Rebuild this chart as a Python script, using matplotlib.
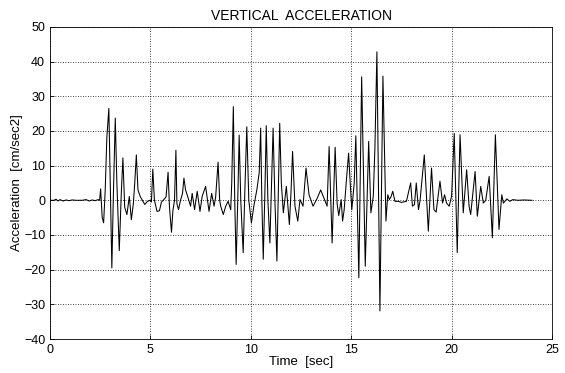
import matplotlib.pyplot as plt

# time [sec] and vertical acceleration [cm/sec2], read from the record
time = [0.0, 0.2, 0.3, 0.4, 0.5, 0.65, 0.8, 0.95, 1.1, 1.3, 1.6, 1.8, 1.95, 2.1, 2.25, 2.4, 2.47,
        2.52, 2.6, 2.67, 2.75, 2.83, 2.93, 3.0, 3.08, 3.15, 3.25, 3.33, 3.45, 3.55, 3.63, 3.72,
        3.83, 3.9, 3.95, 4.05, 4.15, 4.22, 4.3, 4.38, 4.5, 4.72, 4.85, 4.97, 5.05, 5.12, 5.2,
        5.33, 5.45, 5.55, 5.67, 5.78, 5.88, 5.95, 6.05, 6.12, 6.2, 6.27, 6.32, 6.4, 6.5, 6.6,
        6.67, 6.75, 6.83, 7.0, 7.08, 7.2, 7.33, 7.47, 7.58, 7.75, 7.92, 8.05, 8.17, 8.25, 8.37,
        8.45, 8.5, 8.63, 8.75, 8.87, 9.0, 9.05, 9.13, 9.2, 9.27, 9.35, 9.42, 9.5, 9.62, 9.7,
        9.8, 9.9, 10.03, 10.15, 10.3, 10.42, 10.49, 10.55, 10.62, 10.7, 10.77, 10.85, 10.95,
        11.03, 11.11, 11.2, 11.3, 11.37, 11.44, 11.52, 11.62, 11.77, 11.92, 12.0, 12.08, 12.2,
        12.34, 12.45, 12.6, 12.75, 12.9, 13.1, 13.3, 13.48, 13.65, 13.8, 13.9, 14.05, 14.2,
        14.3, 14.38, 14.5, 14.57, 14.65, 14.75, 14.87, 14.95, 15.03, 15.15, 15.23, 15.38,
        15.52, 15.7, 15.87, 15.98, 16.1, 16.18, 16.28, 16.43, 16.58, 16.73, 16.82, 16.9,
        16.98, 17.07, 17.18, 17.35, 17.5, 17.75, 17.96, 18.05, 18.15, 18.24, 18.35, 18.43,
        18.64, 18.84, 19.0, 19.12, 19.23, 19.42, 19.55, 19.65, 19.75, 19.88, 20.0, 20.13,
        20.28, 20.42, 20.58, 20.75, 20.87, 20.95, 21.17, 21.28, 21.45, 21.58, 21.7, 21.87,
        22.03, 22.18, 22.36, 22.5, 22.58, 22.75, 22.9, 23.05, 23.3, 23.6, 24.0]
accel = [0, 0, 0.3, -0.2, 0.2, -0.2, 0.1, -0.1, 0.1, 0, 0, 0.2, -0.2, 0.1, -0.1, 0.2, 0,
         3.3, -5.0, -6.5, 3, 18, 26.5, 5, -19.5, 0, 23.7, 5, -14.5, 2, 12.2, -2,
         -4.1, -1, 1.1, -5.6, -1, 5, 13.1, 3, 1, -1.2, -0.3, 0, -0.5, 9, 0,
         -3.2, -3.0, -0.5, 0.2, 1, 8.1, -2, -9.2, -3, 0, 14.4, -1, -2.7, 0, 2,
         6.4, 3, 1.6, -1.7, 2, -2.7, 2.6, -3.2, 1.2, 4, -3.2, 2, -1.7, 1, 11,
         0, -1.7, -4.1, -1.7, -0.3, -2.7, 5, 27, 0, -18.5, 0, 18.8, 0, -15.1, 2,
         21.2, 0, -6.5, -1.7, 3, 8, 20.8, 0, -17, 2, 21.5, 0, -12.3,
         4, 20.8, 0, -17.5, 3, 22.2, 5, -3.6, 4, -7, 2, 14.1, -1.7,
         -6, 0.2, -1.7, 9.3, 1.6, -1.7, 0.5, 3, 0.5, -1.7, 15.5, -12.3, 15.3,
         -1, -4.4, 0.2, -6, -2.7, 5, 13.6, 5, -2.7, 5, 18.6, -22.3,
         35.6, -19, 17, -3.6, 1.2, 15, 42.8, -31.9, 35.8, -6, 1.6, 0.2,
         1.0, 2.6, -0.3, -0.3, -0.6, -0.3, 5, -1.7, -1.2, 5, -2.7, 0,
         13.1, -8.9, 9.3, -2.7, -3.4, 5.5, -0.8, 1.6, -0.8, -1.7, 1.2, 19.3,
         -15.1, 18.9, -3.6, 8.8, -1.7, -4.1, 8.3, -4.6, 4, -0.8, 0, 6.9,
         -10.8, 18.9, -8.4, 1.6, -0.8, 0.4, -0.3, 0.2, 0, 0.1, 0]

xticks = [0, 5, 10, 15, 20, 25]
yticks = [-40, -30, -20, -10, 0, 10, 20, 30, 40, 50]

plt.rcParams['font.family'] = ['Liberation Sans', 'DejaVu Sans']

fig = plt.figure(figsize=(5.65, 3.73), dpi=100)
ax = fig.add_axes([0.0885, 0.091, 0.8885, 0.837])

ax.plot(time, accel, color='black', linewidth=0.75)

ax.set_xlim(0, 25)
ax.set_ylim(-40, 50)
ax.set_xticks(xticks)
ax.set_yticks(yticks)
ax.tick_params(direction='in', length=3, labelsize=9, width=0.6)
ax.grid(True, color='black', linestyle=(0, (1, 2)), linewidth=0.6)
for s in ax.spines.values():
    s.set_linewidth(0.6)

ax.set_title("VERTICAL  ACCELERATION", fontsize=10, pad=5)
ax.set_xlabel("Time  [sec]", fontsize=9.5, labelpad=0)
ax.set_ylabel("Acceleration  [cm/sec2]", fontsize=9.5, labelpad=1)

fig.savefig('out.png', dpi=100)
